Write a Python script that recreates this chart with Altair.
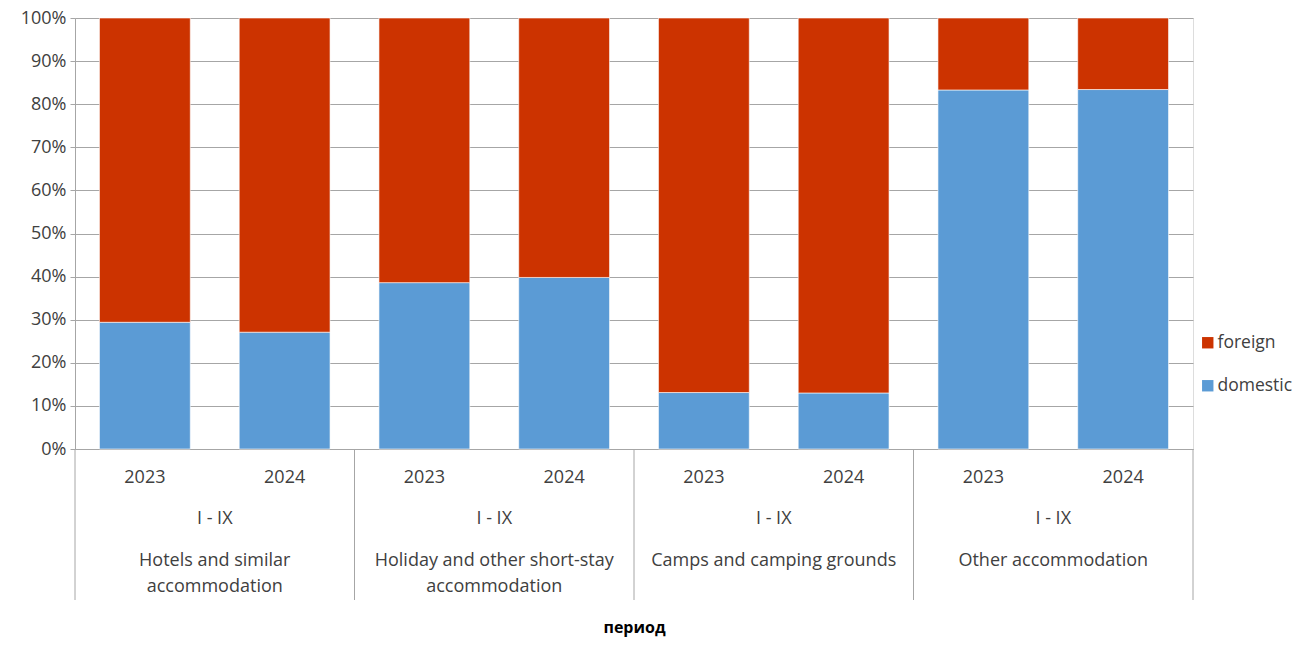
import altair as alt
import pandas as pd

# ---- data ----
category_lines = [
    "Hotels and similar\naccommodation",
    "Holiday and other short-stay\naccommodation",
    "Camps and camping grounds",
    "Other accommodation",
]
years = ["2023", "2024"]
period_label = "I - IX"
series = ["foreign", "domestic"]
domestic = [29.4, 27.1, 38.6, 39.8, 13.1, 13.0, 83.3, 83.4]  # percent
colors = ["#CC3300", "#5B9BD5"]

FONT = "Open Sans"
FS = 18
TXT = "#404040"
GRID = "#A6A6A6"

# ---- tables built from the arrays ----
bar_rows = []
year_rows = []
for g, cat in enumerate(category_lines):
    for k, yr in enumerate(years):
        i = g * len(years) + k
        d = domestic[i] / 100.0
        bar_rows.append({"slot": i, "x0": i + 0.175, "x1": i + 0.825,
                         "series": "domestic", "lo": 0.0, "hi": d})
        bar_rows.append({"slot": i, "x0": i + 0.175, "x1": i + 0.825,
                         "series": "foreign", "lo": d, "hi": 1.0})
        year_rows.append({"pos": i + 0.5, "label": yr})
bars_df = pd.DataFrame(bar_rows)
years_df = pd.DataFrame(year_rows)
groups_df = pd.DataFrame({
    "pos": [g * 2 + 1 for g in range(len(category_lines))],
    "period": [period_label] * len(category_lines),
    "cat": category_lines,
})
bounds_df = pd.DataFrame({"b": [0, 2, 4, 6, 8]})

N = len(domestic)
xscale = alt.Scale(domain=[0, N], nice=False, zero=False)

bars = alt.Chart(bars_df).mark_bar(stroke="white", strokeWidth=0.6).encode(
    x=alt.X("x0:Q", scale=xscale,
            axis=alt.Axis(labels=False, ticks=False, grid=False, domainColor=GRID,
                          title="период", titleFontWeight="bold", titleFontSize=16,
                          titleFont=FONT, titleColor="#000000", titlePadding=170)),
    x2="x1:Q",
    y=alt.Y("lo:Q", scale=alt.Scale(domain=[0, 1], nice=False),
            axis=alt.Axis(values=[i / 10 for i in range(11)], format=".0%",
                          title=None, grid=True, gridColor=GRID, domainColor=GRID,
                          tickColor=GRID, tickSize=5, labelPadding=4,
                          labelFont=FONT, labelFontSize=FS, labelColor=TXT)),
    y2="hi:Q",
    color=alt.Color("series:N", scale=alt.Scale(domain=series, range=colors),
                    legend=alt.Legend(title=None, orient="none", legendX=1124, legendY=316,
                                      symbolType="square", symbolSize=130,
                                      symbolStrokeWidth=0, labelFont=FONT,
                                      labelFontSize=17.5, labelColor=TXT,
                                      labelOffset=1, rowPadding=24, padding=0)),
)

seps = alt.Chart(bounds_df).mark_rule(color=GRID, strokeWidth=1).encode(
    x=alt.X("b:Q", scale=xscale),
    y=alt.value(431), y2=alt.value(582),
)

year_txt = alt.Chart(years_df).mark_text(font=FONT, fontSize=FS, color=TXT,
                                         baseline="middle").encode(
    x=alt.X("pos:Q", scale=xscale), y=alt.value(460), text="label:N")

period_txt = alt.Chart(groups_df).mark_text(font=FONT, fontSize=FS, color=TXT,
                                            baseline="middle").encode(
    x=alt.X("pos:Q", scale=xscale), y=alt.value(501), text="period:N")

cat_txt = alt.Chart(groups_df).mark_text(font=FONT, fontSize=FS, color=TXT,
                                         baseline="top", lineBreak="\n",
                                         lineHeight=26).encode(
    x=alt.X("pos:Q", scale=xscale), y=alt.value(534), text="cat:N")

chart = alt.layer(bars, seps, year_txt, period_txt, cat_txt).properties(
    width=1118, height=431,
    autosize=alt.AutoSizeParams(type="none"),
    padding={"left": 67, "top": 10, "right": 105, "bottom": 189},
).configure_view(stroke=None).configure(background="white")

chart.save("out.html", embed_options={"renderer": "svg", "actions": False})
